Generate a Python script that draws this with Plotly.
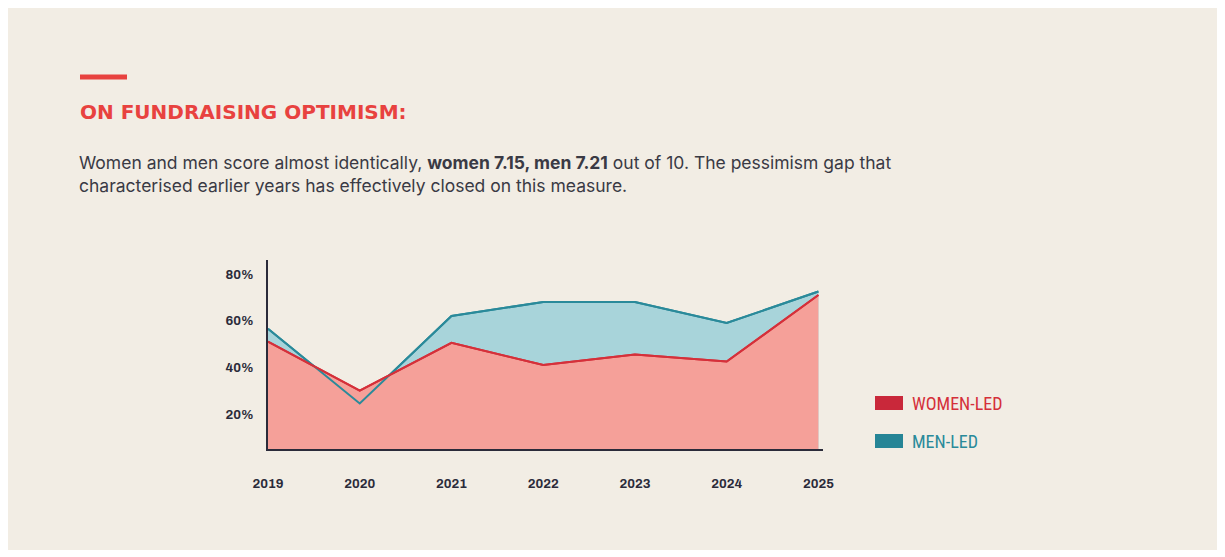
import plotly.graph_objects as go

years = [2019, 2020, 2021, 2022, 2023, 2024, 2025]
women_led = [51, 30, 50.5, 41, 45.5, 42.5, 71]
men_led = [56.5, 24.5, 62, 68, 68, 59, 72.5]
y_ticks = [20, 40, 60, 80]
y_labels = ["20%", "40%", "60%", "80%"]

BG = "#f2ede4"
RED = "#e8423f"
W_LINE = "#d5303a"
M_LINE = "#2a8a9a"
fig = go.Figure()

# fills first, then lines so both edges stay visible where they cross
fig.add_trace(go.Scatter(x=years, y=men_led, mode="lines", fill="tozeroy",
                         fillcolor="#a8d4da", line=dict(color=M_LINE, width=2),
                         showlegend=False))
fig.add_trace(go.Scatter(x=years, y=women_led, mode="lines", fill="tozeroy",
                         fillcolor="#f5a099", line=dict(color=W_LINE, width=2),
                         showlegend=False))
fig.add_trace(go.Scatter(x=years, y=men_led, mode="lines",
                         line=dict(color=M_LINE, width=2), showlegend=False))
fig.add_trace(go.Scatter(x=years, y=women_led, mode="lines",
                         line=dict(color=W_LINE, width=2), showlegend=False))

tick_font = dict(family="Archivo, Inter, Roboto", size=13, color="#2b2b3a", weight="bold")
fig.update_layout(
    width=1210, height=542,
    paper_bgcolor=BG, plot_bgcolor=BG,
    margin=dict(l=260, r=395, t=252, b=101),
    xaxis=dict(range=[2019, 2025.05], tickvals=years, showgrid=False, zeroline=False,
               showline=True, linecolor="#2b2b3a", linewidth=1.5,
               ticklabelstandoff=22, tickfont=tick_font),
    yaxis=dict(range=[5, 86], tickvals=y_ticks, ticktext=y_labels, showgrid=False,
               zeroline=False, showline=True, linecolor="#2b2b3a", linewidth=1.5,
               ticklabelstandoff=10, tickfont=tick_font),
    font=dict(family="Inter, Roboto"),
)

# title bar and texts (paper coords relative to the plot area, 555 x 189 px)
fig.add_shape(type="line", xref="paper", yref="paper",
              x0=-188 / 555, x1=-141 / 555, y0=(449 - 77) / 189, y1=(449 - 77) / 189,
              line=dict(color=RED, width=5))
fig.add_annotation(xref="paper", yref="paper", x=-190 / 555, y=(449 - 112) / 189,
                   text="ON FUNDRAISING OPTIMISM:", showarrow=False, xanchor="left", yanchor="middle",
                   font=dict(family="DejaVu Sans", size=20, color=RED, weight="bold"))
fig.add_annotation(xref="paper", yref="paper", x=-191 / 555, y=(449 - 174) / 189,
                   text="Women and men score almost identically, <b>women 7.15, men 7.21</b> out of 10. The pessimism gap that<br>characterised earlier years has effectively closed on this measure.",
                   showarrow=False, xanchor="left", yanchor="middle", align="left",
                   font=dict(family="Inter, Roboto", size=17.5, color="#3a3a44"))

# legend with rounded swatches
legend = [("WOMEN-LED", "#c9283a", W_LINE, 403), ("MEN-LED", "#268596", M_LINE, 441)]
for label, swatch, txt, ypx in legend:
    yp = (449 - ypx) / 189
    fig.add_shape(type="rect", xref="paper", yref="paper",
                  x0=(875 - 268) / 555, x1=(903 - 268) / 555,
                  y0=yp - 7 / 189, y1=yp + 7 / 189,
                  fillcolor=swatch, line=dict(width=0))
    fig.add_annotation(xref="paper", yref="paper", x=(910 - 268) / 555, y=yp,
                       text=label, showarrow=False, xanchor="left", yanchor="middle",
                       font=dict(family="Liberation Sans Narrow, Roboto Condensed, DejaVu Sans Condensed", size=18, color=txt))

fig.write_html("out.html")
